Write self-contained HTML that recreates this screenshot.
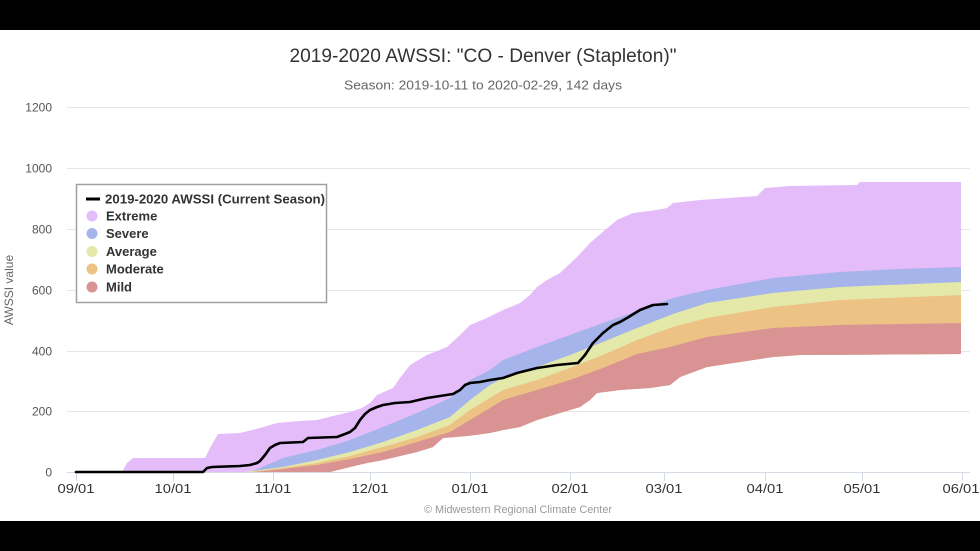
<!DOCTYPE html>
<html>
<head>
<meta charset="utf-8">
<style>
  html,body{margin:0;padding:0;background:#000;}
  body{width:980px;height:551px;overflow:hidden;}
  svg{display:block;}
  text{font-family:"Liberation Sans", Arial, sans-serif;}
</style>
</head>
<body>
<svg width="980" height="551" viewBox="0 0 980 551" xmlns="http://www.w3.org/2000/svg">
  <rect x="0" y="0" width="980" height="551" fill="#000"/>
  <rect x="0" y="30" width="980" height="491" fill="#fff"/>

  <!-- title -->
  <text x="483" y="62" text-anchor="middle" font-size="19" fill="#333" textLength="387" lengthAdjust="spacingAndGlyphs">2019-2020 AWSSI: "CO - Denver (Stapleton)"</text>
  <text x="483" y="89.5" text-anchor="middle" font-size="12.5" fill="#666" textLength="278" lengthAdjust="spacingAndGlyphs">Season: 2019-10-11 to 2020-02-29, 142 days</text>

  <!-- gridlines -->
  <g stroke="#e6e6e6" stroke-width="1">
    <line x1="67" y1="107.5" x2="970" y2="107.5"/>
    <line x1="67" y1="168.5" x2="970" y2="168.5"/>
    <line x1="67" y1="229.5" x2="970" y2="229.5"/>
    <line x1="67" y1="290.5" x2="970" y2="290.5"/>
    <line x1="67" y1="351.5" x2="970" y2="351.5"/>
    <line x1="67" y1="411.5" x2="970" y2="411.5"/>
  </g>

  <!-- y labels -->
  <g font-size="12" fill="#555" text-anchor="end">
    <text x="52" y="111.5">1200</text>
    <text x="52" y="172.5">1000</text>
    <text x="52" y="233.5">800</text>
    <text x="52" y="294.5">600</text>
    <text x="52" y="355.5">400</text>
    <text x="52" y="415.5">200</text>
    <text x="52" y="476.5">0</text>
  </g>
  <text transform="translate(13,290) rotate(-90)" text-anchor="middle" font-size="12" fill="#666">AWSSI value</text>

  <!-- bands -->
  <g stroke="none">
    <polygon fill="#e5bcfa" points="76,472 122,472 127,463 133,458 205,458 210,448 218,434 240,433 260,428 277,423 300,421 317,420 333,416 350,412 362,408 370,403 377,395 393,388 400,378 410,365 427,355 447,347 460,335 470,325 487,318 503,310 520,303 530,295 537,287 547,280 560,273 577,257 590,243 605,230 617,220 633,213 650,211 667,208 673,203 700,200 757,196 765,188 790,186 857,185 860,182 961,182 961,354 800,355 773,357 740,362 707,367 680,377 670,385 650,388 620,390 597,393 590,400 580,407 560,413 537,420 520,427 503,430 490,433 467,436 443,438 433,447 417,452 400,456 383,460 367,463 350,467 330,472"/>
    <polygon fill="#a5b4ea" points="76,472 250,472 267,465 283,458 317,450 350,440 383,427 417,413 450,398 470,380 490,370 503,360 537,347 570,335 603,323 637,311 673,298 707,290 773,278 840,272 900,269 961,267 961,354 800,355 773,357 740,362 707,367 680,377 670,385 650,388 620,390 597,393 590,400 580,407 560,413 537,420 520,427 503,430 490,433 467,436 443,438 433,447 417,452 400,456 383,460 367,463 350,467 330,472"/>
    <polygon fill="#e4e9a9" points="76,472 245,472 283,467 317,460 350,452 383,442 417,430 450,417 470,400 490,385 503,378 537,367 570,355 603,342 637,328 673,314 707,303 773,293 840,287 961,282 961,354 800,355 773,357 740,362 707,367 680,377 670,385 650,388 620,390 597,393 590,400 580,407 560,413 537,420 520,427 503,430 490,433 467,436 443,438 433,447 417,452 400,456 383,460 367,463 350,467 330,472"/>
    <polygon fill="#ecc285" points="76,472 250,472 283,468 317,463 350,456 383,447 417,437 450,425 470,410 490,398 503,390 537,380 570,368 603,355 637,340 673,327 707,318 773,307 840,300 961,295 961,354 800,355 773,357 740,362 707,367 680,377 670,385 650,388 620,390 597,393 590,400 580,407 560,413 537,420 520,427 503,430 490,433 467,436 443,438 433,447 417,452 400,456 383,460 367,463 350,467 330,472"/>
    <polygon fill="#d99393" points="76,472 255,472 283,469 317,465 350,459 383,452 417,442 450,432 470,420 490,408 503,400 537,390 570,380 603,368 637,354 670,347 707,337 773,328 840,325 961,323 961,354 800,355 773,357 740,362 707,367 680,377 670,385 650,388 620,390 597,393 590,400 580,407 560,413 537,420 520,427 503,430 490,433 467,436 443,438 433,447 417,452 400,456 383,460 367,463 350,467 330,472"/>
  </g>

  <!-- x axis -->
  <line x1="67" y1="472.5" x2="970" y2="472.5" stroke="#d5dbe5" stroke-width="1"/>
  <g stroke="#d5dbe5" stroke-width="1">
    <line x1="76.5" y1="472" x2="76.5" y2="481"/>
    <line x1="173.5" y1="472" x2="173.5" y2="481"/>
    <line x1="273.5" y1="472" x2="273.5" y2="481"/>
    <line x1="370.5" y1="472" x2="370.5" y2="481"/>
    <line x1="470.5" y1="472" x2="470.5" y2="481"/>
    <line x1="570.5" y1="472" x2="570.5" y2="481"/>
    <line x1="664.5" y1="472" x2="664.5" y2="481"/>
    <line x1="765.5" y1="472" x2="765.5" y2="481"/>
    <line x1="862.5" y1="472" x2="862.5" y2="481"/>
    <line x1="962.5" y1="472" x2="962.5" y2="481"/>
  </g>
  <g font-size="12.5" fill="#333" text-anchor="middle">
    <text x="76" y="493" textLength="37" lengthAdjust="spacingAndGlyphs">09/01</text>
    <text x="173" y="493" textLength="37" lengthAdjust="spacingAndGlyphs">10/01</text>
    <text x="273" y="493" textLength="37" lengthAdjust="spacingAndGlyphs">11/01</text>
    <text x="370" y="493" textLength="37" lengthAdjust="spacingAndGlyphs">12/01</text>
    <text x="470" y="493" textLength="37" lengthAdjust="spacingAndGlyphs">01/01</text>
    <text x="570" y="493" textLength="37" lengthAdjust="spacingAndGlyphs">02/01</text>
    <text x="664" y="493" textLength="37" lengthAdjust="spacingAndGlyphs">03/01</text>
    <text x="765" y="493" textLength="37" lengthAdjust="spacingAndGlyphs">04/01</text>
    <text x="862" y="493" textLength="37" lengthAdjust="spacingAndGlyphs">05/01</text>
    <text x="961" y="493" textLength="37" lengthAdjust="spacingAndGlyphs">06/01</text>
  </g>

  <!-- current season line -->
  <polyline fill="none" stroke="#000" stroke-width="2.6" stroke-linejoin="round" stroke-linecap="round"
    points="76,472 203,472 207,468 212,467 240,466 250,465 257,463 260,461 265,455 270,448 275,445 280,443 303,442 308,438 337,437 345,434 350,432 355,428 360,420 365,414 370,410 377,407 383,405 395,403 410,402 427,398 440,396 453,394 460,390 465,385 470,383 480,382 490,380 503,378 517,373 537,368 557,365 578,363 585,355 593,343 603,333 613,325 620,322 627,318 640,310 653,305 667,304"/>

  <!-- legend -->
  <rect x="76.5" y="184.5" width="250" height="118" fill="#fff" stroke="#a0a0a0" stroke-width="1.5"/>
  <line x1="86" y1="199" x2="100" y2="199" stroke="#000" stroke-width="3"/>
  <circle cx="92" cy="216" r="5.5" fill="#e5bcfa"/>
  <circle cx="92" cy="233.5" r="5.5" fill="#a5b4ea"/>
  <circle cx="92" cy="251.5" r="5.5" fill="#e4e9a9"/>
  <circle cx="92" cy="269" r="5.5" fill="#ecc285"/>
  <circle cx="92" cy="287" r="5.5" fill="#d99393"/>
  <g font-size="13" font-weight="bold" fill="#333">
    <text x="105" y="203.5" textLength="220" lengthAdjust="spacingAndGlyphs">2019-2020 AWSSI (Current Season)</text>
    <text x="106" y="220.5">Extreme</text>
    <text x="106" y="238">Severe</text>
    <text x="106" y="256">Average</text>
    <text x="106" y="273.5">Moderate</text>
    <text x="106" y="291.5">Mild</text>
  </g>

  <!-- credits -->
  <text x="518" y="513" text-anchor="middle" font-size="10.9" fill="#999" textLength="188" lengthAdjust="spacingAndGlyphs">© Midwestern Regional Climate Center</text>
</svg>
</body>
</html>
